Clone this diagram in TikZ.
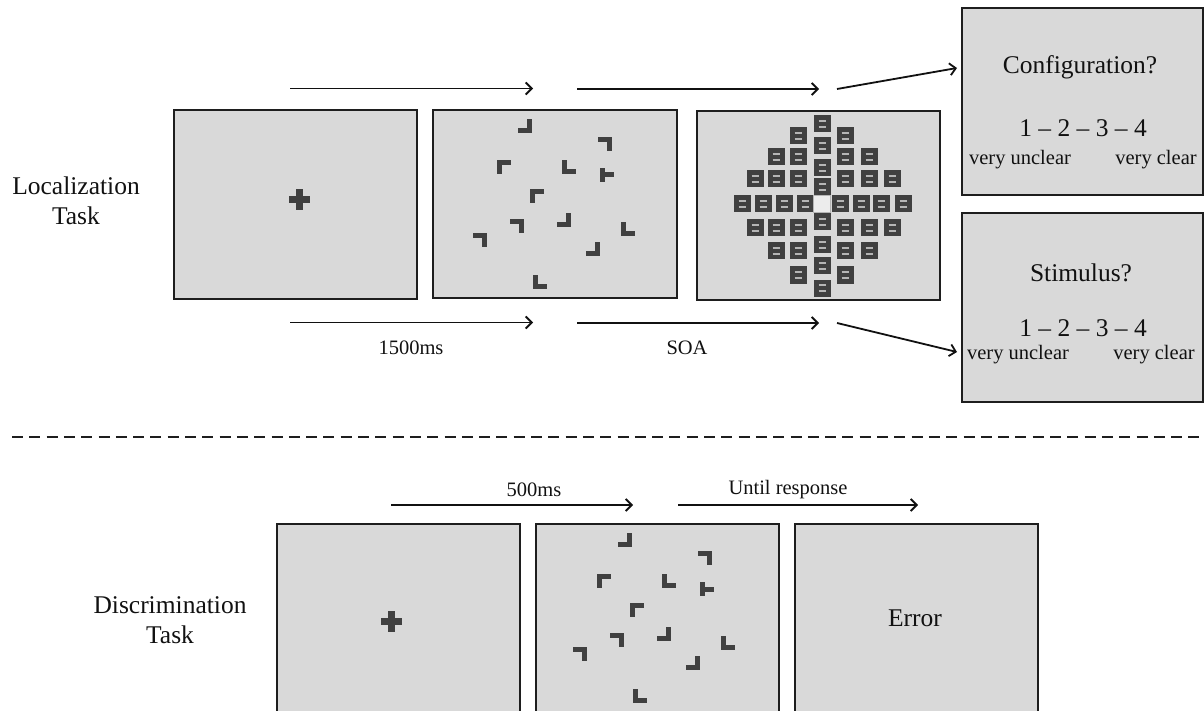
\documentclass[tikz,border=0pt]{standalone}
\usepackage{fontspec}
\setmainfont{Liberation Serif}
\usetikzlibrary{arrows.meta}
\definecolor{panelfill}{HTML}{D9D9D9}
\definecolor{stim}{HTML}{404040}
\definecolor{edgec}{HTML}{1E1E1E}
\definecolor{markc}{HTML}{B5B5B5}
\definecolor{txt}{HTML}{111111}
\definecolor{blankc}{HTML}{ECECEC}
\tikzset{
  panel/.style={draw=edgec, line width=1.9pt, fill=panelfill, inner sep=0pt, minimum width=243pt, minimum height=189pt},
  arr/.style={line width=1.8pt, draw=txt, -{Straight Barb[length=6pt,width=12pt,line width=1.8pt]}},
  bigtxt/.style={text=txt, font=\fontsize{25.5}{30}\selectfont, inner sep=0pt, align=center},
  smalltxt/.style={text=txt, font=\fontsize{20.5}{24}\selectfont, inner sep=0pt},
  divline/.style={draw=edgec, line width=2.5pt, dash pattern=on 11pt off 6.3pt},
  lbr/.pic={\fill[stim] (2,-7) rectangle (7,7); \fill[stim] (-7,2) rectangle (7,7);},
  ltr/.pic={\fill[stim] (2,-7) rectangle (7,7); \fill[stim] (-7,-7) rectangle (7,-2);},
  ltl/.pic={\fill[stim] (-7,-7) rectangle (-2,7); \fill[stim] (-7,-7) rectangle (7,-2);},
  lbl/.pic={\fill[stim] (-7,-7) rectangle (-2,7); \fill[stim] (-7,2) rectangle (7,7);},
  ltee/.pic={\fill[stim] (-7,-7) rectangle (-2,7); \fill[stim] (-7,-2.5) rectangle (7,2.5);},
  fixcross/.pic={\fill[stim] (-10.5,-3.5) rectangle (10.5,3.5); \fill[stim] (-3.5,-10.5) rectangle (3.5,10.5);},
  masksq/.pic={\fill[stim] (-8.5,-8.5) rectangle (8.5,8.5);
     \draw[markc, line width=1.2pt] (-3.5,-3) -- (3.5,-3) (-3.5,3) -- (3.5,3);},
  stimset/.pic={
     \pic at (92.3,15.7) {lbr};
     \pic at (172.3,34) {ltr};
     \pic at (71.3,57) {ltl};
     \pic at (135.7,57) {lbl};
     \pic at (174,65) {ltee};
     \pic at (103.7,85.7) {ltl};
     \pic at (83.7,115.7) {ltr};
     \pic at (131.3,110) {lbr};
     \pic at (47.3,130.3) {ltr};
     \pic at (194.7,119) {lbl};
     \pic at (159.7,139.3) {lbr};
     \pic at (107,172) {lbl};
  }
}
\begin{document}
\begin{tikzpicture}[x=1pt,y=-1pt]
\path[use as bounding box, clip] (0,0) rectangle (1204,711);

% ---------- Localization task ----------
\node[bigtxt] (loc) at (76,201) {Localization\\Task};

\node[panel] (p1) at (295.5,204.5) {};
\node[panel, minimum width=244pt, minimum height=188pt] (p2) at (555,204) {};
\node[panel] (p3) at (818.5,205.5) {};
\node[panel, minimum width=241pt, minimum height=187pt] (r1) at (1082.5,101.5) {};
\node[panel, minimum width=241pt, minimum height=189pt] (r2) at (1082.5,307.5) {};

\pic at (299,200) {fixcross};
\pic at (433,110) {stimset};

% mask
\foreach \yy in {124,146,168,187,222,245,266,288} {\pic at (822,\yy) {masksq};}
\foreach \xx in {798,845} {\pic at (\xx,136) {masksq}; \pic at (\xx,275) {masksq};}
\foreach \xx in {776,798,845,869} {\pic at (\xx,157) {masksq}; \pic at (\xx,251) {masksq};}
\foreach \xx in {755,776,798,845,869,892} {\pic at (\xx,179) {masksq}; \pic at (\xx,228) {masksq};}
\foreach \xx in {742,763,784,805,840,861,881,903} {\pic at (\xx,204) {masksq};}
\fill[blankc, draw=markc, line width=0.6pt] (813.5,195.5) rectangle (830.5,212.5);

% response boxes
\node[bigtxt] (q1) at (1080,67) {Configuration?};
\node[bigtxt] (s1) at (1083,128) {1 – 2 – 3 – 4};
\node[smalltxt] (u1) at (1020,160) {very unclear};
\node[smalltxt] (c1) at (1156,160) {very clear};

\node[bigtxt] (q2) at (1081,273) {Stimulus?};
\node[bigtxt] (s2) at (1083,328) {1 – 2 – 3 – 4};
\node[smalltxt] (u2) at (1018,355) {very unclear};
\node[smalltxt] (c2) at (1154,355) {very clear};

% arrows top
\coordinate (a1s) at (290,88.5);
\coordinate (a1e) at (533,88.5);
\coordinate (a2s) at (577,89);
\coordinate (a2e) at (819,89);
\coordinate (a3s) at (837,89);
\coordinate (a3e) at (957,68);
\draw[arr] (a1s) -- (a1e);
\draw[arr] (a2s) -- (a2e);
\draw[arr] (a3s) -- (a3e);

% arrows bottom
\coordinate (b1s) at (290,322.5);
\coordinate (b1e) at (533,322.5);
\coordinate (b2s) at (577,323);
\coordinate (b2e) at (819,323);
\coordinate (b3s) at (837,323);
\coordinate (b3e) at (957,352);
\draw[arr] (b1s) -- (b1e);
\draw[arr] (b2s) -- (b2e);
\draw[arr] (b3s) -- (b3e);
\node[smalltxt] (l1500) at (411,348) {1500ms};
\node[smalltxt] (lsoa) at (687,348) {SOA};

% divider
\coordinate (d1) at (12,437);
\coordinate (d2) at (1210,437);
\draw[divline] (d1) -- (d2);

% ---------- Discrimination task ----------
\node[bigtxt] (dis) at (170,620) {Discrimination\\Task};

\node[panel] (p4) at (398.5,618.5) {};
\node[panel] (p5) at (657.5,618.5) {};
\node[panel] (p6) at (916.5,618.5) {};

\pic at (391,621) {fixcross};
\pic at (533,524) {stimset};
\node[bigtxt] (err) at (915,618) {Error};

\coordinate (c1s) at (391,505);
\coordinate (c1e) at (633,505);
\coordinate (c2s) at (678,505);
\coordinate (c2e) at (918,505);
\draw[arr] (c1s) -- (c1e);
\draw[arr] (c2s) -- (c2e);
\node[smalltxt] (l500) at (534,490) {500ms};
\node[smalltxt] (lur) at (788,490) {Until response};
\end{tikzpicture}
\end{document}
